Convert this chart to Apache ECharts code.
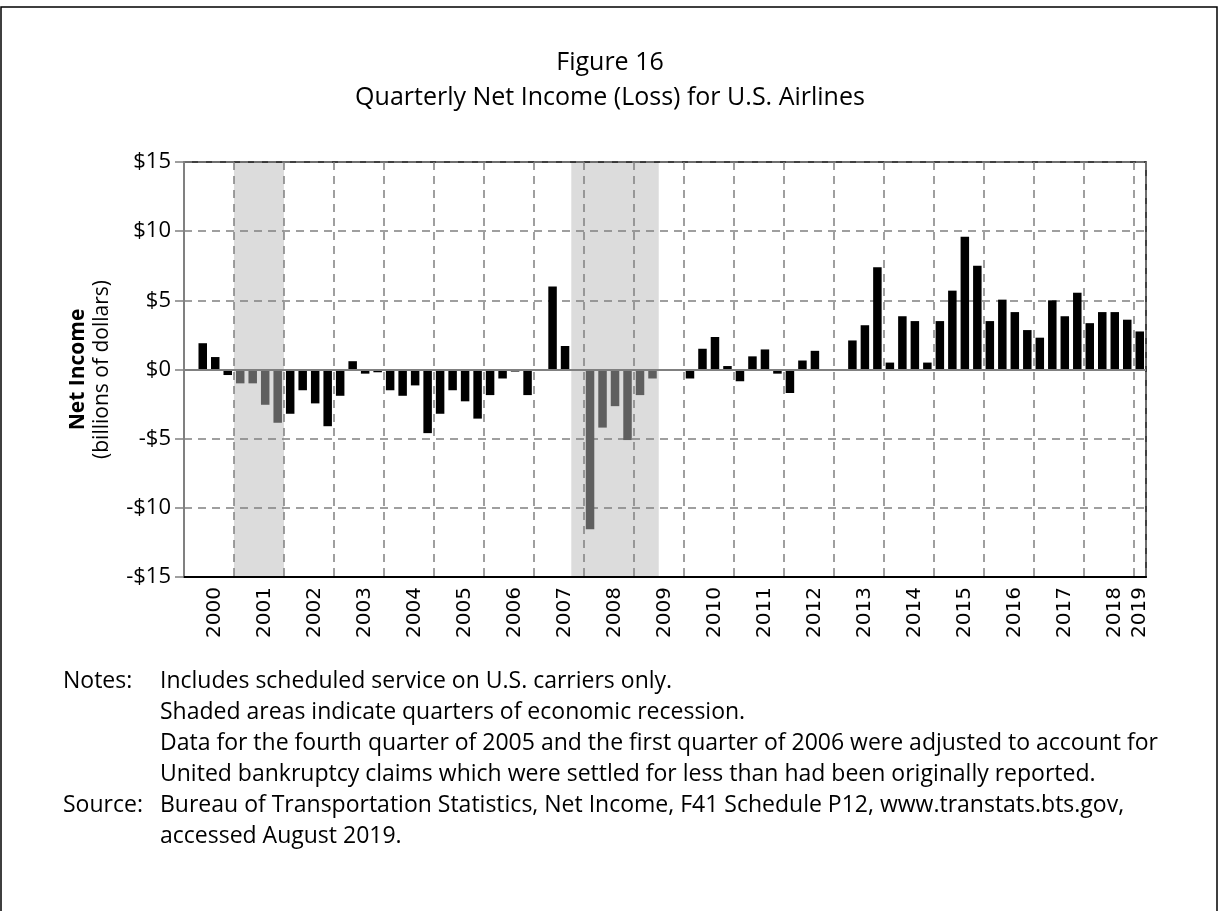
<!DOCTYPE html>
<html>
<head>
<meta charset="utf-8">
<script src="https://cdn.jsdelivr.net/npm/echarts@6/dist/echarts.min.js"></script>
<style>
  html, body { margin: 0; padding: 0; background: #fff; }
  #chart { width: 1219px; height: 911px; }
</style>
</head>
<body>
<div id="chart"></div>
<script>
// quarters 2000 Q1 .. 2019 Q1
const years = [2000, 2001, 2002, 2003, 2004, 2005, 2006, 2007, 2008, 2009,
  2010, 2011, 2012, 2013, 2014, 2015, 2016, 2017, 2018, 2019]
const quarters = []
years.forEach((y) => {
  ['Q1', 'Q2', 'Q3', 'Q4'].forEach((q) => {
    if (y < 2019 || q === 'Q1') quarters.push(y + ' ' + q)
  })
})

// net income, billions of dollars
const netIncome = [
  0, 1.9, 0.9, -0.4,
  -1.0, -1.0, -2.55, -3.85,
  -3.2, -1.5, -2.45, -4.1,
  -1.9, 0.6, -0.3, -0.2,
  -1.5, -1.9, -1.15, -4.6,
  -3.2, -1.5, -2.3, -3.55,
  -1.85, -0.65, -0.15, -1.85,
  0, 6.0, 1.7, 0,
  -11.55, -4.2, -2.65, -5.1,
  -1.85, -0.65, 0, 0,
  -0.65, 1.5, 2.35, 0.25,
  -0.85, 0.95, 1.45, -0.3,
  -1.7, 0.65, 1.35, 0,
  0, 2.1, 3.2, 7.4,
  0.5, 3.85, 3.5, 0.5,
  3.5, 5.7, 9.6, 7.5,
  3.5, 5.05, 4.15, 2.85,
  2.3, 5.0, 3.85, 5.55,
  3.35, 4.15, 4.15, 3.6,
  2.75
]

// recession quarters (first, last)
const recessions = [
  ['2001 Q1', '2001 Q4'],
  ['2007 Q4', '2009 Q2']
]

const yTicks = [-15, -10, -5, 0, 5, 10, 15]

const notes = [
  'Includes scheduled service on U.S. carriers only.',
  'Shaded areas indicate quarters of economic recession.',
  'Data for the fourth quarter of 2005 and the first quarter of 2006 were adjusted to account for',
  'United bankruptcy claims which were settled for less than had been originally reported.'
]
const source = [
  'Bureau of Transportation Statistics, Net Income, F41 Schedule P12, www.transtats.bts.gov,',
  'accessed August 2019.'
]

const recessionIdx = recessions.map(([a, b]) => [quarters.indexOf(a), quarters.indexOf(b)])
const inRecession = (i) => recessionIdx.some(([a, b]) => i >= a && i <= b)
const last = quarters.length - 1

const textFont = '23px "Open Sans", sans-serif'
const titleFont = '25px "Open Sans", sans-serif'
const graphics = [
  { type: 'rect', shape: { x: 1, y: 7, width: 1216, height: 940 }, style: { fill: 'none', stroke: '#000', lineWidth: 1.5 }, silent: true },
  { type: 'text', style: { text: 'Figure 16', x: 610, y: 63, align: 'center', verticalAlign: 'middle', font: titleFont, fill: '#000' } },
  { type: 'text', style: { text: 'Quarterly Net Income (Loss) for U.S. Airlines', x: 610, y: 98, align: 'center', verticalAlign: 'middle', font: titleFont, fill: '#000' } },
  { type: 'text', style: { text: 'Notes:', x: 63, y: 681, verticalAlign: 'middle', font: textFont, fill: '#000' } },
  { type: 'text', style: { text: 'Source:', x: 63, y: 805, verticalAlign: 'middle', font: textFont, fill: '#000' } }
]
notes.forEach((t, i) => {
  graphics.push({ type: 'text', style: { text: t, x: 160, y: 681 + i * 31, verticalAlign: 'middle', font: textFont, fill: '#000' } })
})
source.forEach((t, i) => {
  graphics.push({ type: 'text', style: { text: t, x: 160, y: 805 + i * 31, verticalAlign: 'middle', font: textFont, fill: '#000' } })
})

const dash = [8, 6]
const chart = echarts.init(document.getElementById('chart'))
chart.setOption({
  animation: false,
  grid: { left: 184, right: 73, top: 162, bottom: 334, show: true, borderColor: '#000', borderWidth: 1.5 },
  xAxis: [
    {
      type: 'category',
      data: quarters,
      boundaryGap: true,
      axisLine: { onZero: false, lineStyle: { color: '#000', width: 2 } },
      axisTick: { show: false },
      axisLabel: {
        interval: (i) => i % 4 === 2 || i === last,
        rotate: 90,
        formatter: (v) => v.slice(0, 4),
        fontFamily: 'DejaVu Sans',
        fontSize: 20,
        color: '#000',
        margin: 10
      },
      splitLine: {
        show: true,
        interval: (i) => i % 4 === 0 && i > 0,
        lineStyle: { type: dash, color: '#808080', width: 1.5 }
      }
    },
    { type: 'value', min: 0, max: quarters.length, show: false }
  ],
  yAxis: {
    type: 'value',
    min: yTicks[0],
    max: yTicks[yTicks.length - 1],
    interval: 5,
    axisLine: { show: true, lineStyle: { color: '#808080', width: 2 } },
    axisTick: { show: true, length: 9, lineStyle: { color: '#808080', width: 1.5 } },
    axisLabel: {
      formatter: (v) => (v < 0 ? '-$' : '$') + Math.abs(v),
      fontFamily: 'Open Sans',
      fontSize: 22,
      color: '#000',
      margin: 13
    },
    splitLine: { lineStyle: { type: dash, color: '#808080', width: 1.5 } },
    name: '{b|Net Income}\n{n|(billions of dollars)}',
    nameLocation: 'middle',
    nameRotate: 90,
    nameGap: 70,
    nameTextStyle: {
      color: '#000',
      rich: {
        b: { fontFamily: 'Open Sans', fontSize: 21, fontWeight: 'bold', lineHeight: 24 },
        n: { fontFamily: 'Open Sans', fontSize: 21, lineHeight: 24 }
      }
    }
  },
  series: [
    {
      name: 'Recession',
      type: 'line',
      xAxisIndex: 1,
      data: [[0, -15]],
      symbol: 'none',
      lineStyle: { opacity: 0 },
      silent: true,
      z: -1,
      markArea: {
        silent: true,
        z: -1,
        itemStyle: { color: '#dcdcdc' },
        data: recessionIdx.map(([a, b]) => [{ xAxis: a }, { xAxis: b + 1 }])
      }
    },
    {
      name: 'Net Income',
      type: 'bar',
      barWidth: '68%',
      data: netIncome.map((v, i) => ({
        value: v,
        itemStyle: { color: inRecession(i) ? '#5f5f5f' : '#000' }
      })),
      markLine: {
        silent: true,
        symbol: 'none',
        label: { show: false },
        lineStyle: { color: '#808080', type: 'solid', width: 2 },
        data: [{ yAxis: 0 }]
      }
    }
  ],
  graphic: graphics
})
</script>
</body>
</html>
